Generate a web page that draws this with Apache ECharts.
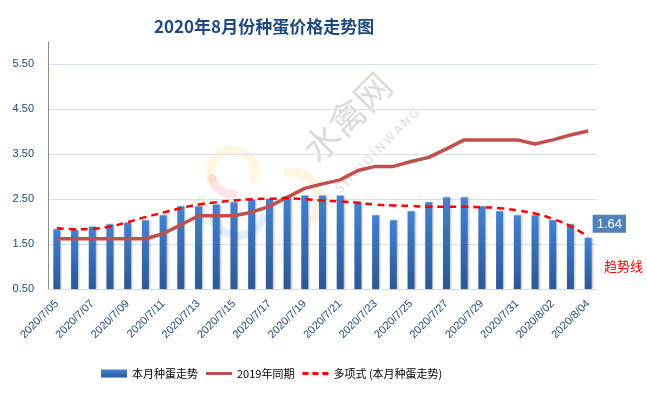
<!DOCTYPE html>
<html>
<head>
<meta charset="utf-8">
<script src="https://cdn.jsdelivr.net/npm/echarts@6/dist/echarts.min.js"></script>
<style>html,body{margin:0;padding:0;background:#fff}#c{width:647px;height:393px}</style>
</head>
<body>
<div id="c"></div>
<script>
var categories = ['2020/7/05','2020/7/06','2020/7/07','2020/7/08','2020/7/09','2020/7/10','2020/7/11','2020/7/12','2020/7/13','2020/7/14','2020/7/15','2020/7/16','2020/7/17','2020/7/18','2020/7/19','2020/7/20','2020/7/21','2020/7/22','2020/7/23','2020/7/24','2020/7/25','2020/7/26','2020/7/27','2020/7/28','2020/7/29','2020/7/30','2020/7/31','2020/8/01','2020/8/02','2020/8/03','2020/8/04'];
var thisMonth = [1.83,1.82,1.89,1.94,1.98,2.03,2.14,2.34,2.34,2.38,2.43,2.49,2.51,2.57,2.58,2.58,2.58,2.43,2.14,2.03,2.23,2.43,2.54,2.54,2.34,2.23,2.14,2.14,2.03,1.94,1.64];
var lastYear = [1.62,1.62,1.62,1.62,1.62,1.62,1.73,1.93,2.13,2.13,2.13,2.21,2.34,2.54,2.74,2.84,2.93,3.14,3.23,3.23,3.34,3.43,3.62,3.82,3.82,3.82,3.82,3.73,3.82,3.93,4.02];
var trend = [1.86,1.83,1.84,1.89,1.99,2.10,2.20,2.30,2.38,2.43,2.47,2.50,2.51,2.52,2.50,2.47,2.45,2.42,2.38,2.36,2.35,2.33,2.33,2.33,2.32,2.30,2.25,2.18,2.06,1.90,1.66];
var gridValues = [1.5,2.5,3.5,4.5,5.5];
var seriesNames = ['本月种蛋走势','2019年同期','多项式 (本月种蛋走势)'];

var chart = echarts.init(document.getElementById('c'), null, {renderer:'canvas'});
var font = '"Noto Sans CJK SC", "Microsoft YaHei", sans-serif';
var latin = '"Liberation Sans", Arial, sans-serif';
var barData = thisMonth.map(function(v,i){
  if (i === thisMonth.length-1) {
    return {value:v, label:{show:true, position:[8,-23], formatter:function(p){return p.value.toFixed(2);}, color:'#fff', fontSize:13, fontFamily:latin, backgroundColor:'#4F81BD', padding:[3,4,2,4]}};
  }
  return v;
});
function arc(cx, cy, r, a0, a1, color, w){
  return {type:'arc', silent:true, z:-2, shape:{cx:cx, cy:cy, r:r, startAngle:a0, endAngle:a1},
    style:{stroke:color, lineWidth:w, fill:null, opacity:0.16, lineCap:'round'}};
}
chart.setOption({
  animation:false,
  textStyle:{fontFamily:font},
  title:{text:'2020年8月份种蛋价格走势图', left:149, top:13, textStyle:{color:'#1F497D', fontSize:17, fontWeight:'bold', fontFamily:font}},
  grid:{left:48, right:50, top:42, bottom:104},
  legend:{
    bottom:9, left:96, itemWidth:26, itemHeight:8, itemGap:8,
    textStyle:{color:'#000', fontSize:11, fontFamily:font},
    data:[
      {name:seriesNames[0], icon:'rect'},
      {name:seriesNames[1], icon:'path://M0,0 L26,0 L26,3 L0,3 Z'},
      {name:seriesNames[2], icon:'path://M0,0 h6 v3 h-6 Z M10,0 h6 v3 h-6 Z M20,0 h6 v3 h-6 Z'}
    ]
  },
  xAxis:{
    type:'category', data:categories, boundaryGap:true,
    axisLine:{lineStyle:{color:'#D9D9D9'}},
    axisTick:{show:false},
    axisLabel:{interval:1, rotate:45, color:'#1F497D', fontSize:11, fontFamily:latin, margin:13}
  },
  yAxis:{
    type:'value', min:0.5, max:6, interval:1,
    axisLine:{show:true, lineStyle:{color:'#8C8C8C'}},
    axisTick:{show:false},
    splitLine:{show:false},
    axisLabel:{showMaxLabel:false, margin:14, color:'#1F497D', fontSize:11, fontFamily:latin, formatter:function(v){return v.toFixed(2);}}
  },
  graphic:[
    arc(233, 172, 22, Math.PI*0.9, Math.PI*2.1, '#F5C542', 9),
    arc(233, 172, 22, Math.PI*0.5, Math.PI*0.9, '#E85A4F', 9),
    arc(238, 210, 26, Math.PI*0.1, Math.PI*0.9, '#4A90E2', 8),
    arc(220, 205, 20, Math.PI*0.6, Math.PI*1.1, '#7CC66B', 8),
    arc(292, 200, 28, -Math.PI*0.55, Math.PI*0.35, '#F5B942', 9),
    {type:'text', x:347, y:117, rotation:Math.PI/4, silent:true, z:-1,
     style:{text:'水禽网', align:'center', verticalAlign:'middle', fontSize:36, fontFamily:font, fill:'rgba(110,110,110,0.25)'}},
    {type:'text', x:378, y:151, rotation:Math.PI/4, silent:true, z:-1,
     style:{text:'S\u2009H\u2009U\u2009I\u2009Q\u2009I\u2009N\u2009W\u2009A\u2009N\u2009G', align:'center', verticalAlign:'middle', fontSize:12, fontFamily:'"DejaVu Sans", sans-serif', fill:'rgba(110,110,110,0.25)'}},
    {type:'text', left:604, top:260, style:{text:'趋势线', fontSize:13, fontFamily:font, fill:'#FF0000'}}
  ],
  series:[
    {name:seriesNames[0], type:'bar', data:barData, barWidth:7, z:2,
     itemStyle:{color:new echarts.graphic.LinearGradient(0,0,0,1,[{offset:0,color:'#4182D2'},{offset:1,color:'#2C5894'}]), shadowColor:'rgba(0,0,0,0.25)', shadowBlur:2, shadowOffsetX:1},
     markLine:{silent:true, symbol:'none', label:{show:false}, lineStyle:{color:'#D6DFEA', width:1, type:'solid'}, z:0,
       data:gridValues.map(function(v){return {yAxis:v};})}
    },
    {name:seriesNames[1], type:'line', data:lastYear, symbol:'none', z:3,
     lineStyle:{color:'#C0504D', width:3.5}, itemStyle:{color:'#C0504D'}},
    {name:seriesNames[2], type:'line', data:trend, symbol:'none', smooth:true, z:4,
     lineStyle:{color:'#FF0000', width:2.5, type:[7,5]}, itemStyle:{color:'#FF0000'}}
  ]
});
</script>
</body>
</html>
